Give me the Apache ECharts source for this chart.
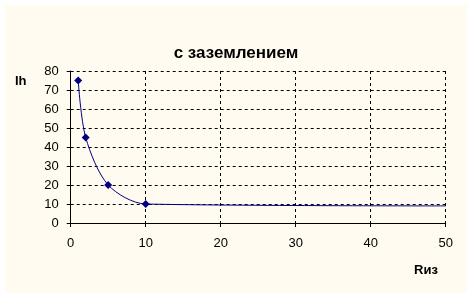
<!DOCTYPE html>
<html><head><meta charset="utf-8">
<script src="https://cdn.jsdelivr.net/npm/echarts@6/dist/echarts.min.js"></script>
<style>html,body{margin:0;padding:0;background:#fff}#c{width:472px;height:298px}</style>
</head><body><div id="c"></div>
<script>
const titleText = "с заземлением";
const xName = "Rиз";
const yName = "Ih";
const xValues = [1, 2, 5, 10, 50];
const yValues = [75, 45, 20, 10, 9];
const markedCount = 4;

const chart = echarts.init(document.getElementById('c'), null, {renderer: 'canvas'});
const font = 'Arial, "Liberation Sans", sans-serif';
const data = xValues.map((x, i) => i < markedCount ? [x, yValues[i]] : {value: [x, yValues[i]], symbol: 'none'});
chart.setOption({
  animation: false,
  backgroundColor: '#ffffff',
  graphic: [
    {type: 'rect', shape: {x: 5, y: 5, width: 462, height: 288}, style: {fill: '#FFFBF0'}, z: -10},
    {type: 'text', left: 15, top: 75, style: {text: yName, font: 'bold 13px ' + font, fill: '#000'}},
    {type: 'text', left: 414, top: 264, style: {text: xName, font: 'bold 13px ' + font, fill: '#000'}}
  ],
  title: {text: titleText, left: 'center', top: 40, textStyle: {fontFamily: font, fontSize: 17, fontWeight: 'bold', color: '#000'}},
  grid: {left: 70.7, right: 26.3, top: 71, bottom: 75},
  xAxis: {
    type: 'value', min: 0, max: 50, interval: 10,
    axisLine: {lineStyle: {color: '#000', width: 1}},
    axisTick: {show: true, length: 4, lineStyle: {color: '#000'}},
    axisLabel: {fontFamily: font, fontSize: 13, color: '#000', margin: 14},
    splitLine: {show: true, lineStyle: {color: '#000', type: [3, 3], width: 1}}
  },
  yAxis: {
    type: 'value', min: 0, max: 80, interval: 10,
    axisLine: {show: true, lineStyle: {color: '#000', width: 1}},
    axisTick: {show: true, length: 4, lineStyle: {color: '#000'}},
    axisLabel: {fontFamily: font, fontSize: 13, color: '#000', margin: 12},
    splitLine: {show: true, lineStyle: {color: '#000', type: [3, 3], width: 1}}
  },
  series: [{
    type: 'line', data: data, smooth: 0.3,
    symbol: 'diamond', symbolSize: 8, showAllSymbol: true,
    lineStyle: {color: '#000080', width: 1},
    itemStyle: {color: '#000080'}
  }]
});
</script></body></html>
